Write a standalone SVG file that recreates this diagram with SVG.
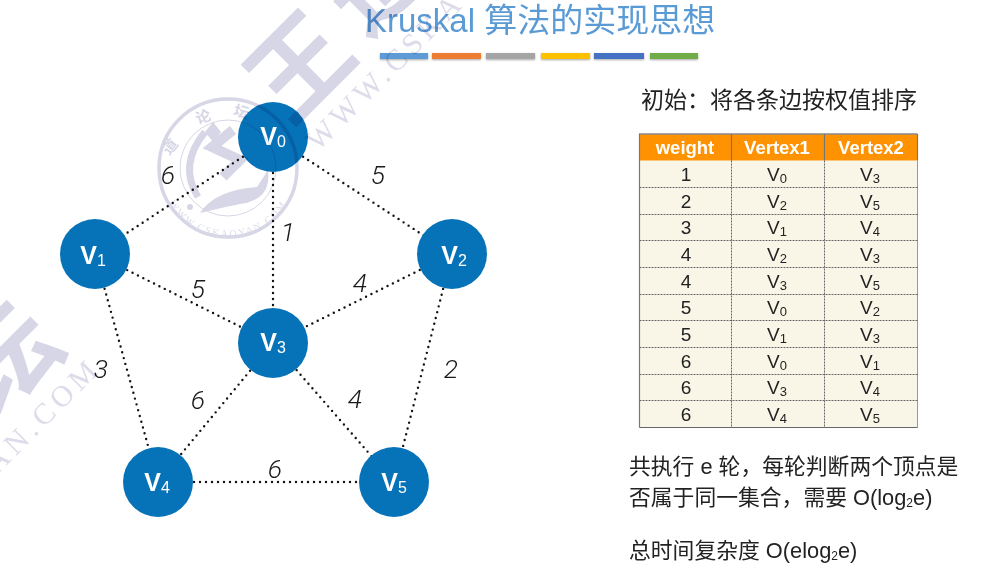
<svg xmlns="http://www.w3.org/2000/svg" width="984" height="574" viewBox="0 0 984 574">
<defs>
<filter id="sh" x="-10%" y="-50%" width="120%" height="220%"><feDropShadow dx="0" dy="1" stdDeviation="1" flood-color="#000" flood-opacity=".35"/></filter>
<path id="sealArc" d="M164 192A68 68 0 0 0 292 192"/>
</defs>
<style>
text{font-family:"Liberation Sans","Noto Sans CJK SC",sans-serif}
.bar{filter:url(#sh)}
.edge{stroke:#111;stroke-width:2.4;stroke-dasharray:0 6;stroke-linecap:round;fill:none}
.node circle{fill:#0672b8}
.node text{fill:#fff;font-size:25px;font-weight:bold;text-anchor:middle}
.node tspan{font-size:16px;font-weight:normal}
.w{font-family:Roboto,"Liberation Sans",sans-serif;font-style:italic;font-weight:300;font-size:26.5px;fill:#1a1a1a;text-anchor:middle}
.th{fill:#fff;font-weight:bold;font-size:18.5px;text-anchor:middle}
.td{fill:#222;font-size:19px;text-anchor:middle}
.td tspan{font-size:13px}
.rl{stroke:#666;stroke-width:1;stroke-dasharray:2 1;fill:none}
.cn{fill:#222;font-size:21.8px}
.wm{mix-blend-mode:multiply}
.wmt{font-family:"Noto Sans CJK SC",sans-serif;font-weight:700;fill:#d6d6e6;text-anchor:middle;font-size:100px}
.wms{font-family:"Liberation Serif",serif;fill:#dcdcea;font-size:30px;letter-spacing:5px}
.seal{fill:none;stroke:#d6d6e6}
.sealt{font-family:"Noto Sans CJK SC",sans-serif;font-weight:700;fill:#d6d6e6;font-size:15px;text-anchor:middle}
</style>
<g id="title">
<text x="365" y="32" font-size="33" fill="#5b9bd5">Kruskal 算法的实现思想</text>
<rect class="bar" x="380" y="53" width="48" height="6" fill="#5b9bd5"/>
<rect class="bar" x="432" y="53" width="49" height="6" fill="#ed7d31"/>
<rect class="bar" x="486" y="53" width="49" height="6" fill="#a5a5a5"/>
<rect class="bar" x="541" y="53" width="49" height="6" fill="#ffc000"/>
<rect class="bar" x="594" y="53" width="50" height="6" fill="#4472c4"/>
<rect class="bar" x="650" y="53" width="48" height="6" fill="#70ad47"/>
</g>
<g id="connectors">
<line class="edge" x1="273" y1="137" x2="95" y2="254"/>
<line class="edge" x1="273" y1="137" x2="452" y2="254"/>
<line class="edge" x1="273" y1="137" x2="273" y2="343"/>
<line class="edge" x1="95" y1="254" x2="273" y2="343"/>
<line class="edge" x1="452" y1="254" x2="273" y2="343"/>
<line class="edge" x1="95" y1="254" x2="158" y2="482"/>
<line class="edge" x1="452" y1="254" x2="394" y2="482"/>
<line class="edge" x1="273" y1="343" x2="158" y2="482"/>
<line class="edge" x1="273" y1="343" x2="394" y2="482"/>
<line class="edge" x1="158" y1="482" x2="394" y2="482"/>
</g>
<g id="edge-labels">
<text class="w" x="168" y="184">6</text>
<text class="w" x="378" y="184">5</text>
<text class="w" x="288" y="241">1</text>
<text class="w" x="198" y="298">5</text>
<text class="w" x="360" y="292">4</text>
<text class="w" x="101" y="378">3</text>
<text class="w" x="451" y="378">2</text>
<text class="w" x="198" y="409">6</text>
<text class="w" x="355" y="408">4</text>
<text class="w" x="275" y="478">6</text>
</g>
<g id="v0" class="node"><circle cx="273" cy="137" r="35"/><text x="273" y="145">V<tspan dy="2">0</tspan></text></g>
<g id="v1" class="node"><circle cx="95" cy="254" r="35"/><text x="93" y="264">V<tspan dy="2">1</tspan></text></g>
<g id="v2" class="node"><circle cx="452" cy="254" r="35"/><text x="454" y="264">V<tspan dy="2">2</tspan></text></g>
<g id="v3" class="node"><circle cx="273" cy="343" r="35"/><text x="273" y="351">V<tspan dy="2">3</tspan></text></g>
<g id="v4" class="node"><circle cx="158" cy="482" r="35"/><text x="157" y="491">V<tspan dy="2">4</tspan></text></g>
<g id="v5" class="node"><circle cx="394" cy="482" r="35"/><text x="394" y="491">V<tspan dy="2">5</tspan></text></g>
<g id="table">
<rect x="639.5" y="160.5" width="278" height="267" fill="#f9f6e8"/>
<rect x="639.5" y="134" width="278" height="26.5" fill="#ff9200"/>
<path d="M639 134H917.500" stroke="#888" stroke-width="1.500" fill="none"/>
<path d="M639.500 134V427.500M731.500 134V160.500M824.500 134V160.500M917.500 134V160.500" stroke="#777" stroke-width="1.200" fill="none"/>
<path d="M917.500 160.500V427.500" stroke="#999" stroke-width="1" fill="none"/>
<path d="M639.500 427.500H917.500" stroke="#666" stroke-width="1" fill="none"/>
<path class="rl" d="M731.500 160.500V427.500M824.500 160.500V427.500M639.500 187.500H917.500M639.500 214.500H917.500M639.500 240.500H917.500M639.500 267.500H917.500M639.500 294.500H917.500M639.500 320.500H917.500M639.500 347.500H917.500M639.500 374.500H917.500M639.500 400.500H917.500"/>
<text class="th" x="685" y="154">weight</text><text class="th" x="777" y="154">Vertex1</text><text class="th" x="871" y="154">Vertex2</text>
<text class="td" x="686" y="181">1</text><text class="td" x="777" y="181">V<tspan dy="2">0</tspan></text><text class="td" x="870" y="181">V<tspan dy="2">3</tspan></text>
<text class="td" x="686" y="208">2</text><text class="td" x="777" y="208">V<tspan dy="2">2</tspan></text><text class="td" x="870" y="208">V<tspan dy="2">5</tspan></text>
<text class="td" x="686" y="234">3</text><text class="td" x="777" y="234">V<tspan dy="2">1</tspan></text><text class="td" x="870" y="234">V<tspan dy="2">4</tspan></text>
<text class="td" x="686" y="261">4</text><text class="td" x="777" y="261">V<tspan dy="2">2</tspan></text><text class="td" x="870" y="261">V<tspan dy="2">3</tspan></text>
<text class="td" x="686" y="288">4</text><text class="td" x="777" y="288">V<tspan dy="2">3</tspan></text><text class="td" x="870" y="288">V<tspan dy="2">5</tspan></text>
<text class="td" x="686" y="314">5</text><text class="td" x="777" y="314">V<tspan dy="2">0</tspan></text><text class="td" x="870" y="314">V<tspan dy="2">2</tspan></text>
<text class="td" x="686" y="341">5</text><text class="td" x="777" y="341">V<tspan dy="2">1</tspan></text><text class="td" x="870" y="341">V<tspan dy="2">3</tspan></text>
<text class="td" x="686" y="368">6</text><text class="td" x="777" y="368">V<tspan dy="2">0</tspan></text><text class="td" x="870" y="368">V<tspan dy="2">1</tspan></text>
<text class="td" x="686" y="394">6</text><text class="td" x="777" y="394">V<tspan dy="2">3</tspan></text><text class="td" x="870" y="394">V<tspan dy="2">4</tspan></text>
<text class="td" x="686" y="421">6</text><text class="td" x="777" y="421">V<tspan dy="2">4</tspan></text><text class="td" x="870" y="421">V<tspan dy="2">5</tspan></text>
</g>
<g id="notes">
<text x="641" y="108" font-size="23" fill="#222">初始：将各条边按权值排序</text>
<text class="cn" x="629" y="474">共执行 e 轮，每轮判断两个顶点是</text>
<text class="cn" x="629" y="505">否属于同一集合，需要 O(log<tspan font-size="12" dy="2">2</tspan><tspan dy="-2">e)</tspan></text>
<text class="cn" x="629" y="558">总时间复杂度 O(elog<tspan font-size="12" dy="2">2</tspan><tspan dy="-2">e)</tspan></text>
</g>
<g id="watermark" class="wm">
<text class="wmt" transform="translate(325 92) rotate(-45)">王</text>
<text class="wmt" transform="translate(400 4) rotate(-45)">道</text>
<text class="wmt" transform="translate(33 384) rotate(-45)">坛</text>
<text class="wms" transform="translate(318 152) rotate(-45)">WWW.CSKA</text>
<text class="wms" transform="translate(-3 475) rotate(-45)">AN.COM</text>
<circle class="seal" cx="228" cy="168" r="69" stroke-width="3.500"/>
<circle class="seal" cx="228" cy="168" r="48" stroke-width="1"/>
<path class="seal" stroke-width="7" d="M205 132Q178 165 198 197"/>
<path class="seal" stroke-width="10" d="M233 130L212 147L240 160L223 177"/>
<path fill="#d6d6e6" d="M200 213Q215 190 257 187L268 170Q272 200 240 204Q220 208 200 213Z"/>
<path fill="#d6d6e6" d="M213 122L221 132L213 142L205 132Z"/>
<circle cx="190" cy="207" r="3" fill="#d6d6e6"/>
<text class="sealt" transform="translate(174 150) rotate(-50)">道</text>
<text class="sealt" transform="translate(205 122) rotate(-18)">论</text>
<text class="sealt" transform="translate(240 117) rotate(15)">坛</text>
<text class="wms" style="font-size:10px;letter-spacing:2px"><textPath href="#sealArc" startOffset="50%" text-anchor="middle">WWW.CSKAOYAN.COM</textPath></text>
</g>
</svg>
